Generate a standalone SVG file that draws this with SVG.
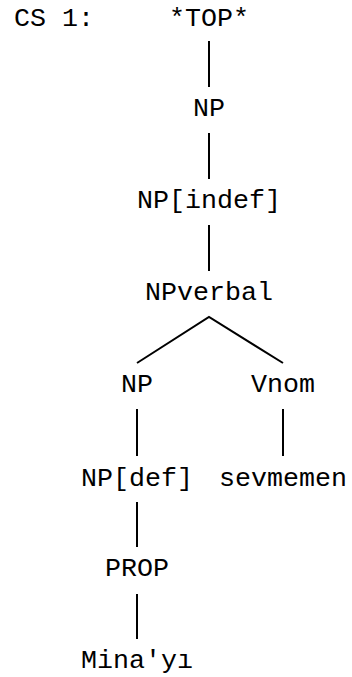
<svg xmlns="http://www.w3.org/2000/svg" width="352" height="677" viewBox="0 0 352 677">
<style>
text{font-family:"Liberation Mono","Courier New",monospace;font-size:26.67px;fill:#000;text-anchor:middle}
.e{stroke:#000;stroke-width:2;fill:none}
</style>
<rect width="352" height="677" fill="#fff"/>
<text x="14" y="26" style="text-anchor:start">CS 1:</text>
<g id="connectors">
<line class="e" x1="209" y1="41" x2="209" y2="87"/>
<line class="e" x1="209" y1="133" x2="209" y2="179"/>
<line class="e" x1="209" y1="225" x2="209" y2="271"/>
<polyline class="e" points="137,363 209,317 283,363"/>
<line class="e" x1="137" y1="409" x2="137" y2="456"/>
<line class="e" x1="283" y1="409" x2="283" y2="456"/>
<line class="e" x1="137" y1="502" x2="137" y2="547"/>
<line class="e" x1="137" y1="594" x2="137" y2="639"/>
</g>
<g id="n-top"><text x="209" y="26">*TOP*</text></g>
<g id="n-np1"><text x="209" y="116">NP</text></g>
<g id="n-npindef"><text x="209" y="208">NP[indef]</text></g>
<g id="n-npverbal"><text x="209" y="300">NPverbal</text></g>
<g id="n-np2"><text x="137" y="392">NP</text></g>
<g id="n-vnom"><text x="283" y="392">Vnom</text></g>
<g id="n-npdef"><text x="137" y="486">NP[def]</text></g>
<g id="n-sevmemen"><text x="283" y="486">sevmemen</text></g>
<g id="n-prop"><text x="137" y="576">PROP</text></g>
<g id="n-mina"><text x="137" y="668">Mina'yı</text></g>
</svg>
